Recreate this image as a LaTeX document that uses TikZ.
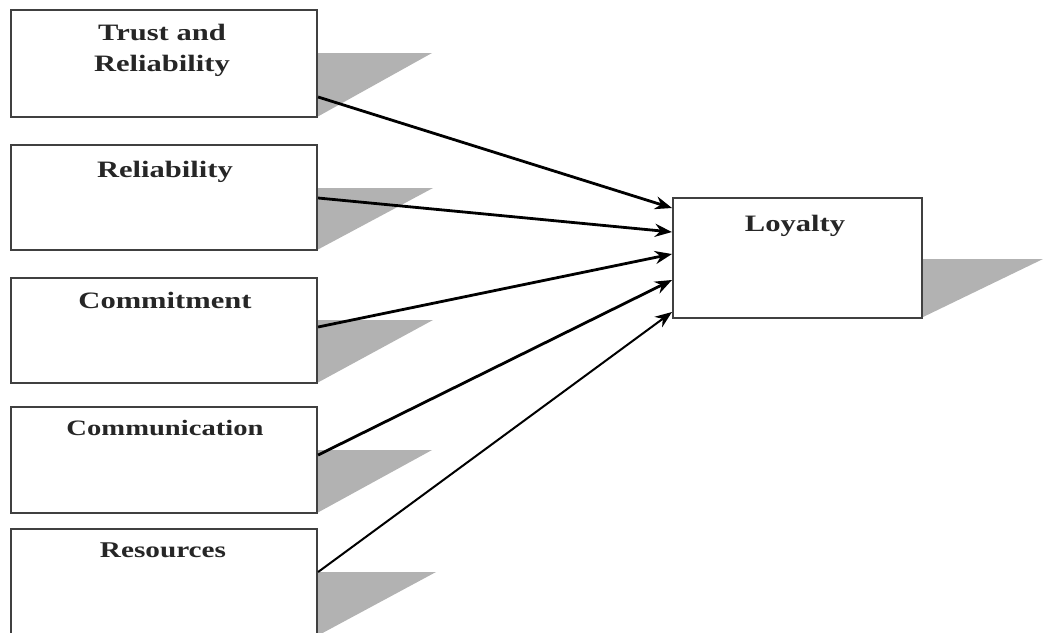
\documentclass[tikz,border=0pt]{standalone}
\usepackage{fontspec}
\setmainfont{Liberation Serif}
\newfontfamily\lblfont[FakeStretch=1.3]{Liberation Serif}
\usetikzlibrary{arrows.meta}
\begin{document}
\begin{tikzpicture}[x=1pt,y=-1pt,
  box/.style={draw=black!75,line width=2.2pt,fill=white,rectangle,inner sep=0pt},
  lbl/.style={font=\lblfont\bfseries\fontsize{23.5}{28}\selectfont,text=black!85,anchor=base,inner sep=0pt},
  shade/.style={fill=black!30,draw=none},
  conn/.style={line width=2.8pt,-{Stealth[length=17pt,width=13pt]}}]
\useasboundingbox (0,0) rectangle (1043,632);
% shadows
\fill[shade] (317,53) -- (432,53) -- (317,117) -- cycle;
\fill[shade] (317,188) -- (433,188) -- (317,250) -- cycle;
\fill[shade] (317,320) -- (433,320) -- (317,383) -- cycle;
\fill[shade] (317,450) -- (432,450) -- (317,513) -- cycle;
\fill[shade] (317,572) -- (436,572) -- (317,636) -- cycle;
\fill[shade] (921,259) -- (1043,259) -- (921,318) -- cycle;
% boxes
\node[box,minimum width=306pt,minimum height=107pt] (b1) at (164,63.5) {};
\node[box,minimum width=306pt,minimum height=105pt] (b2) at (164,197.5) {};
\node[box,minimum width=306pt,minimum height=105pt] (b3) at (164,330.5) {};
\node[box,minimum width=306pt,minimum height=106pt] (b4) at (164,460) {};
\node[box,minimum width=306pt,minimum height=106pt] (b5) at (164,582) {};
\node[box,minimum width=249pt,minimum height=120pt] (ly) at (797.5,258) {};
% labels
\node[lbl] (t1a) at (162,40) {Trust and};
\node[lbl] (t1b) at (162,71) {Reliability};
\node[lbl] (t2) at (165,177) {Reliability};
\node[lbl] (t3) at (165,308) {Commitment};
\node[lbl,font=\lblfont\bfseries\fontsize{22}{26}\selectfont] (t4) at (165,435) {Communication};
\node[lbl,font=\lblfont\bfseries\fontsize{22.5}{26}\selectfont] (t5) at (163,557) {Resources};
\node[lbl] (t6) at (795,231) {Loyalty};
% connectors
\coordinate (e1) at (672,208);
\coordinate (e2) at (672,232);
\coordinate (e3) at (672,254);
\coordinate (e4) at (672,280);
\coordinate (e5) at (672,312);
\draw[conn] (b1.east |- 0,97) -- (e1);
\draw[conn] (b2.east |- 0,198) -- (e2);
\draw[conn] (b3.east |- 0,327) -- (e3);
\draw[conn] (b4.east |- 0,455) -- (e4);
\draw[conn,line width=2pt] (b5.east |- 0,572) -- (e5);
\end{tikzpicture}
\end{document}
